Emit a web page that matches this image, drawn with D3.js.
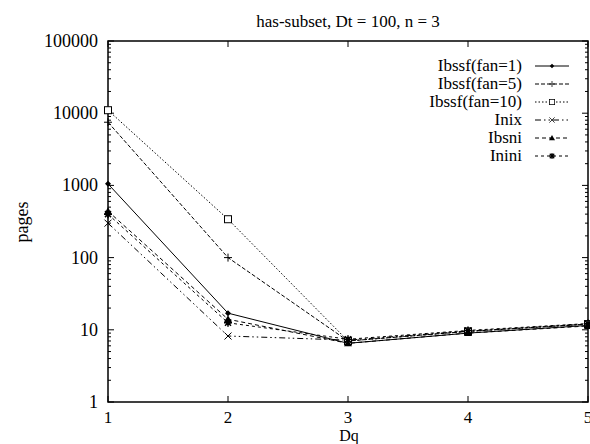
<!DOCTYPE html>
<html>
<head>
<meta charset="utf-8">
<script src="https://cdn.jsdelivr.net/npm/d3@7"></script>
<style>
  body { margin: 0; background: #fff; }
</style>
</head>
<body>
<svg id="chart"></svg>
<script>
var width = 590, height = 444;
var margin = {left: 108, right: 2, top: 41, bottom: 42};
var serif = "'Liberation Serif', 'Times New Roman', Times, 'DejaVu Serif', serif";

// data
var dq = [1, 2, 3, 4, 5];
var fan1 = [1050, 17, 6.5, 9, 11.5];
var fan5 = [7500, 100, 7, 9.5, 12];
var fan10 = [11000, 340, 7, 9.5, 12];
var inix = [300, 8.2, 7.2, 9.6, 12];
var ibsni = [440, 14, 6.5, 9, 11.3];
var inini = [400, 12.5, 7.4, 9.8, 12.2];

var xTicks = [1, 2, 3, 4, 5];
var yTicks = [1, 10, 100, 1000, 10000, 100000];

var series = [
  {name: "Ibssf(fan=1)", values: fan1, dash: null, marker: "diamond"},
  {name: "Ibssf(fan=5)", values: fan5, dash: "4,2", marker: "plus"},
  {name: "Ibssf(fan=10)", values: fan10, dash: "1.5,2", marker: "square"},
  {name: "Inix", values: inix, dash: "6,3,1.5,3,1.5,3", marker: "cross"},
  {name: "Ibsni", values: ibsni, dash: "4,3", marker: "triangle"},
  {name: "Inini", values: inini, dash: "3,3", marker: "star"}
];

var svg = d3.select("#chart")
  .attr("width", width)
  .attr("height", height)
  .attr("font-family", serif);

var x = d3.scaleLinear()
  .domain([1, 5])
  .range([margin.left, width - margin.right]);

var y = d3.scaleLog()
  .domain([1, 100000])
  .range([height - margin.bottom, margin.top]);

// minor ticks for log axis
var minor = [];
yTicks.slice(0, -1).forEach(function(t) {
  for (var k = 2; k < 10; k++) minor.push(t * k);
});

var g = svg.append("g");

// y ticks, both sides
yTicks.forEach(function(t) {
  g.append("line").attr("x1", x(1)).attr("x2", x(1) + 6)
    .attr("y1", y(t)).attr("y2", y(t)).attr("stroke", "#000");
  g.append("line").attr("x1", x(5)).attr("x2", x(5) - 6)
    .attr("y1", y(t)).attr("y2", y(t)).attr("stroke", "#000");
  g.append("text")
    .attr("x", x(1) - 10).attr("y", y(t) + 6)
    .attr("text-anchor", "end")
    .attr("font-family", serif)
    .style("font-size", "18px")
    .text(t);
});
minor.forEach(function(t) {
  g.append("line").attr("x1", x(1)).attr("x2", x(1) + 3)
    .attr("y1", y(t)).attr("y2", y(t)).attr("stroke", "#000");
  g.append("line").attr("x1", x(5)).attr("x2", x(5) - 3)
    .attr("y1", y(t)).attr("y2", y(t)).attr("stroke", "#000");
});

// x ticks, top and bottom
xTicks.forEach(function(t) {
  g.append("line").attr("x1", x(t)).attr("x2", x(t))
    .attr("y1", y(1)).attr("y2", y(1) - 6).attr("stroke", "#000");
  g.append("line").attr("x1", x(t)).attr("x2", x(t))
    .attr("y1", y(100000)).attr("y2", y(100000) + 6).attr("stroke", "#000");
  g.append("text")
    .attr("x", x(t)).attr("y", height - margin.bottom + 21)
    .attr("text-anchor", "middle")
    .attr("font-family", serif)
    .style("font-size", "17px")
    .text(t);
});

// frame
g.append("rect")
  .attr("x", x(1)).attr("y", y(100000))
  .attr("width", x(5) - x(1)).attr("height", y(1) - y(100000))
  .attr("fill", "none").attr("stroke", "#000").attr("stroke-width", 1.5);

// titles
svg.append("text")
  .attr("x", 348).attr("y", 27)
  .attr("text-anchor", "middle")
  .attr("font-family", serif)
  .style("font-size", "17px")
  .text("has-subset, Dt = 100, n = 3");
svg.append("text")
  .attr("x", 349).attr("y", 441)
  .attr("text-anchor", "middle")
  .attr("font-family", serif)
  .style("font-size", "16px")
  .text("Dq");
svg.append("text")
  .attr("transform", "translate(28,222) rotate(-90)")
  .attr("text-anchor", "middle")
  .attr("font-family", serif)
  .style("font-size", "18px")
  .text("pages");

var line = d3.line()
  .x(function(d, i) { return x(dq[i]); })
  .y(function(d) { return y(d); });

function drawMarker(sel, type, cx, cy, s) {
  var m = sel.append("g").attr("transform", "translate(" + cx + "," + cy + ") scale(" + s + ")");
  if (type == "diamond") {
    m.append("path").attr("d", "M0,-3L3,0L0,3L-3,0Z").attr("fill", "#000");
  } else if (type == "plus") {
    m.append("path").attr("d", "M-4,0H4M0,-4V4").attr("stroke", "#000");
  } else if (type == "square") {
    m.append("rect").attr("x", -3.5).attr("y", -3.5).attr("width", 7).attr("height", 7)
      .attr("fill", "#fff").attr("stroke", "#000");
  } else if (type == "cross") {
    m.append("path").attr("d", "M-3.5,-3.5L3.5,3.5M-3.5,3.5L3.5,-3.5").attr("stroke", "#000");
  } else if (type == "triangle") {
    m.append("path").attr("d", "M0,-4L4,3L-4,3Z").attr("fill", "#000");
  } else if (type == "star") {
    m.append("path").attr("d", "M-4,0H4M0,-4V4M-3,-3L3,3M-3,3L3,-3")
      .attr("stroke", "#000").attr("stroke-width", 1.5);
  }
}

var legendTop = 66;
series.forEach(function(s, i) {
  var sg = svg.append("g");
  sg.append("path")
    .datum(s.values)
    .attr("d", line)
    .attr("fill", "none")
    .attr("stroke", "#000")
    .attr("stroke-width", 1)
    .attr("stroke-dasharray", s.dash);
  s.values.forEach(function(v, j) {
    drawMarker(sg, s.marker, x(dq[j]), y(v), 1);
  });

  // legend entry
  var ly = legendTop + i * 18;
  svg.append("text")
    .attr("x", 522).attr("y", ly + 5)
    .attr("text-anchor", "end")
    .attr("font-family", serif)
    .style("font-size", "17px")
    .text(s.name);
  svg.append("line")
    .attr("x1", 535).attr("x2", 569)
    .attr("y1", ly).attr("y2", ly)
    .attr("stroke", "#000")
    .attr("stroke-dasharray", s.dash);
  drawMarker(svg, s.marker, 552, ly, 0.75);
});
</script>
</body>
</html>
